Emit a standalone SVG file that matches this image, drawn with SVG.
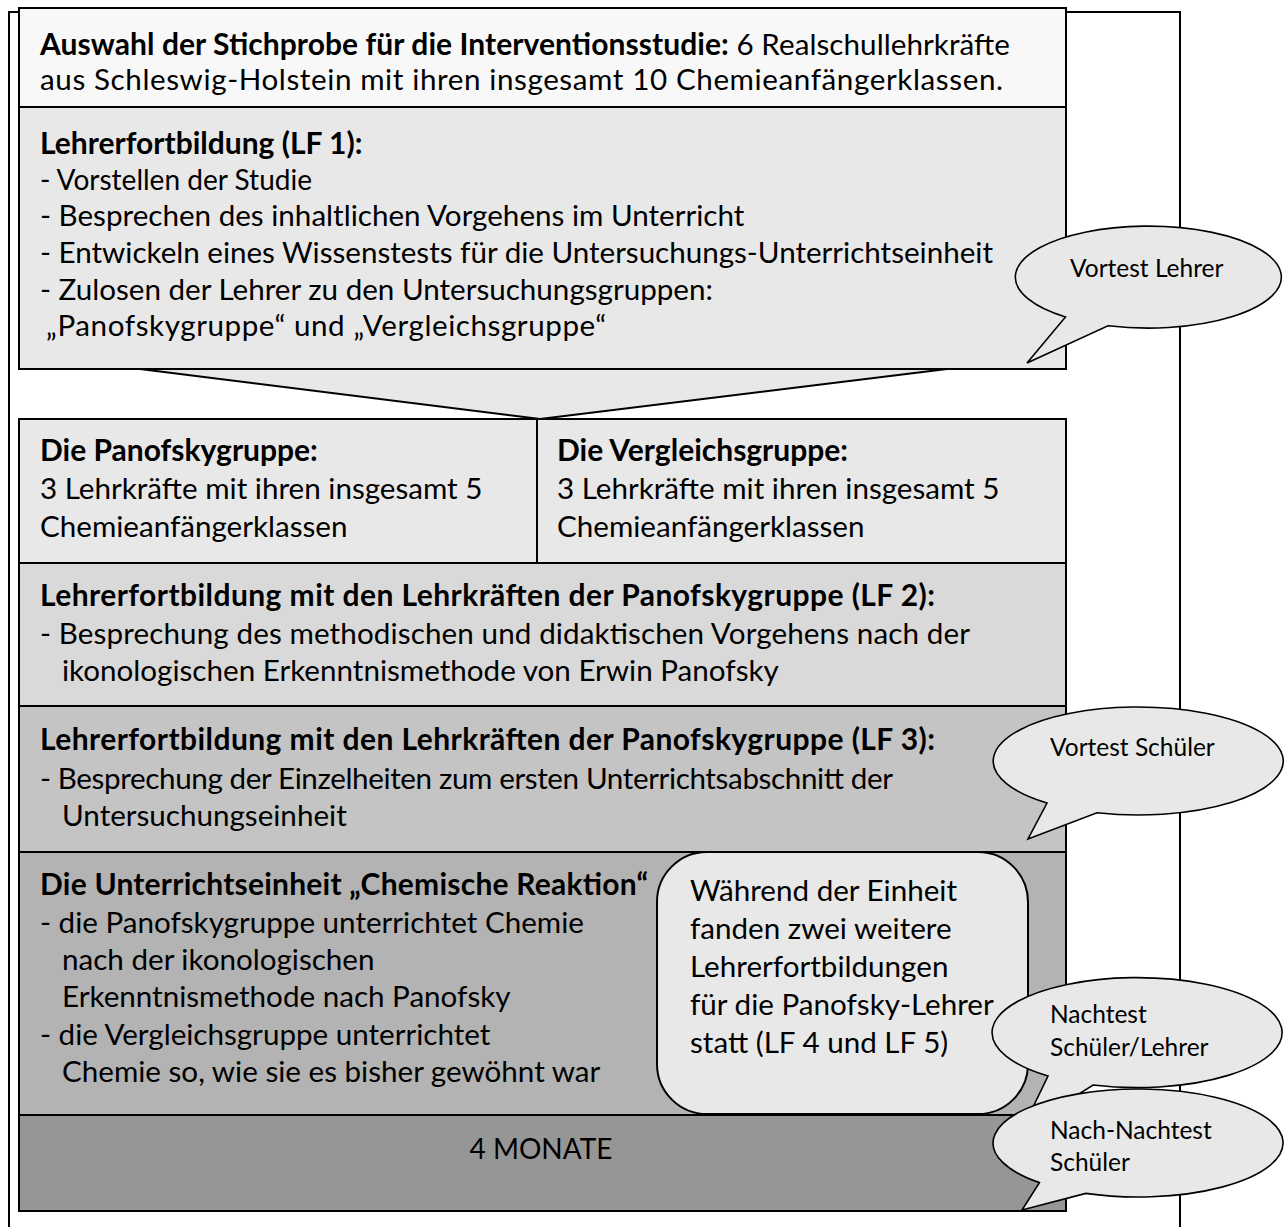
<svg xmlns="http://www.w3.org/2000/svg" width="1288" height="1227" viewBox="0 0 1288 1227">
<style>
.t{font-family:Lato,"Liberation Sans",sans-serif;font-size:29.6px;fill:#000}
.b{font-weight:bold;font-size:30px}
.m{font-family:Lato,"Liberation Sans",sans-serif;font-size:28px;fill:#000}
.c{font-family:Lato,"Liberation Sans",sans-serif;font-size:24.5px;fill:#000}
.box{stroke:#000;stroke-width:2}
.call{fill:#e8e8e8;stroke:#000;stroke-width:1.6}
</style>
<rect x="0" y="0" width="1288" height="1227" fill="#fff"/>
<g id="frame"><rect x="9" y="12" width="1171" height="1260" fill="none" stroke="#000" stroke-width="2"/></g>

<g id="stichprobe">
<rect class="box" x="19" y="8" width="1047" height="99" fill="#f8f8f8"/>
<text class="t" x="40" y="55" textLength="970" lengthAdjust="spacing"><tspan class="b">Auswahl der Stichprobe für die Interventionsstudie:</tspan> 6 Realschullehrkräfte</text>
<text class="t" x="40" y="90" textLength="963" lengthAdjust="spacing">aus Schleswig-Holstein mit ihren insgesamt 10 Chemieanfängerklassen.</text>
</g>

<g id="lf1">
<rect class="box" x="19" y="107" width="1047" height="262" fill="#e8e8e8"/>
<text class="t b" x="40" y="154">Lehrerfortbildung (LF 1):</text>
<text class="t" x="40" y="190" textLength="272" lengthAdjust="spacingAndGlyphs">- Vorstellen der Studie</text>
<text class="t" x="40" y="226">- Besprechen des inhaltlichen Vorgehens im Unterricht</text>
<text class="t" x="40" y="263" textLength="953" lengthAdjust="spacing">- Entwickeln eines Wissenstests für die Untersuchungs-Unterrichtseinheit</text>
<text class="t" x="40" y="300">- Zulosen der Lehrer zu den Untersuchungsgruppen:</text>
<text class="t" x="46" y="336" textLength="560" lengthAdjust="spacing">„Panofskygruppe“ und „Vergleichsgruppe“</text>
</g>

<g id="connectors">
<polygon points="140,369 947,369 540,419" fill="#e8e8e8" stroke="#000" stroke-width="2" stroke-linejoin="miter"/>
</g>

<g id="panofskygruppe">
<rect class="box" x="19" y="419" width="518" height="144" fill="#e8e8e8"/>
<text class="t b" x="40" y="461">Die Panofskygruppe:</text>
<text class="t" x="40" y="499">3 Lehrkräfte mit ihren insgesamt 5</text>
<text class="t" x="40" y="537">Chemieanfängerklassen</text>
</g>

<g id="vergleichsgruppe">
<rect class="box" x="537" y="419" width="529" height="144" fill="#e8e8e8"/>
<text class="t b" x="557" y="461">Die Vergleichsgruppe:</text>
<text class="t" x="557" y="499">3 Lehrkräfte mit ihren insgesamt 5</text>
<text class="t" x="557" y="537">Chemieanfängerklassen</text>
</g>

<g id="lf2">
<rect class="box" x="19" y="563" width="1047" height="143" fill="#d9d9d9"/>
<text class="t b" x="40" y="606" textLength="895" lengthAdjust="spacing">Lehrerfortbildung mit den Lehrkräften der Panofskygruppe (LF 2):</text>
<text class="t" x="40" y="644" textLength="930" lengthAdjust="spacing">- Besprechung des methodischen und didaktischen Vorgehens nach der</text>
<text class="t" x="62" y="681">ikonologischen Erkenntnismethode von Erwin Panofsky</text>
</g>

<g id="lf3">
<rect class="box" x="19" y="706" width="1047" height="146" fill="#c4c4c4"/>
<text class="t b" x="40" y="750" textLength="895" lengthAdjust="spacing">Lehrerfortbildung mit den Lehrkräften der Panofskygruppe (LF 3):</text>
<text class="t" x="40" y="789" textLength="853" lengthAdjust="spacing">- Besprechung der Einzelheiten zum ersten Unterrichtsabschnitt der</text>
<text class="t" x="62" y="826">Untersuchungseinheit</text>
</g>

<g id="unterrichtseinheit">
<rect class="box" x="19" y="852" width="1047" height="263" fill="#b3b3b3"/>
<text class="t b" x="40" y="895" textLength="608" lengthAdjust="spacing">Die Unterrichtseinheit „Chemische Reaktion“</text>
<text class="t" x="40" y="933">- die Panofskygruppe unterrichtet Chemie</text>
<text class="t" x="62" y="970">nach der ikonologischen</text>
<text class="t" x="62" y="1007">Erkenntnismethode nach Panofsky</text>
<text class="t" x="40" y="1045">- die Vergleichsgruppe unterrichtet</text>
<text class="t" x="62" y="1082">Chemie so, wie sie es bisher gewöhnt war</text>
</g>

<g id="monate">
<rect class="box" x="19" y="1115" width="1047" height="96" fill="#969696"/>
<text class="m" x="541" y="1159" text-anchor="middle">4 MONATE</text>
</g>

<g id="lf45">
<rect x="657" y="852" width="371" height="262" rx="50" ry="50" fill="#e8e8e8" stroke="#000" stroke-width="2"/>
<text class="t" x="690" y="901">Während der Einheit</text>
<text class="t" x="690" y="939">fanden zwei weitere</text>
<text class="t" x="690" y="977">Lehrerfortbildungen</text>
<text class="t" x="690" y="1015">für die Panofsky-Lehrer</text>
<text class="t" x="690" y="1053">statt (LF 4 und LF 5)</text>
</g>

<g id="vortest-lehrer">
<path class="call" d="M1108,325.7 A133,51 0 1 0 1065.5,317 L1027,363 Z"/>
<text class="c" x="1070" y="277">Vortest Lehrer</text>
</g>

<g id="vortest-schueler">
<path class="call" d="M1097,812.8 A145,54 0 1 0 1047,803 L1028,839 Z"/>
<text class="c" x="1050" y="756">Vortest Schüler</text>
</g>

<g id="nachtest">
<path class="call" d="M1093,1085 A145,55 0 1 0 1048,1076 L1022,1130 Z"/>
<text class="c" x="1050" y="1023">Nachtest</text>
<text class="c" x="1050" y="1056">Schüler/Lehrer</text>
</g>

<g id="nach-nachtest">
<path class="call" d="M1085.8,1193.4 A145,54 0 1 0 1039.4,1182.6 L1022,1210 Z"/>
<text class="c" x="1050" y="1139">Nach-Nachtest</text>
<text class="c" x="1050" y="1171">Schüler</text>
</g>
</svg>
